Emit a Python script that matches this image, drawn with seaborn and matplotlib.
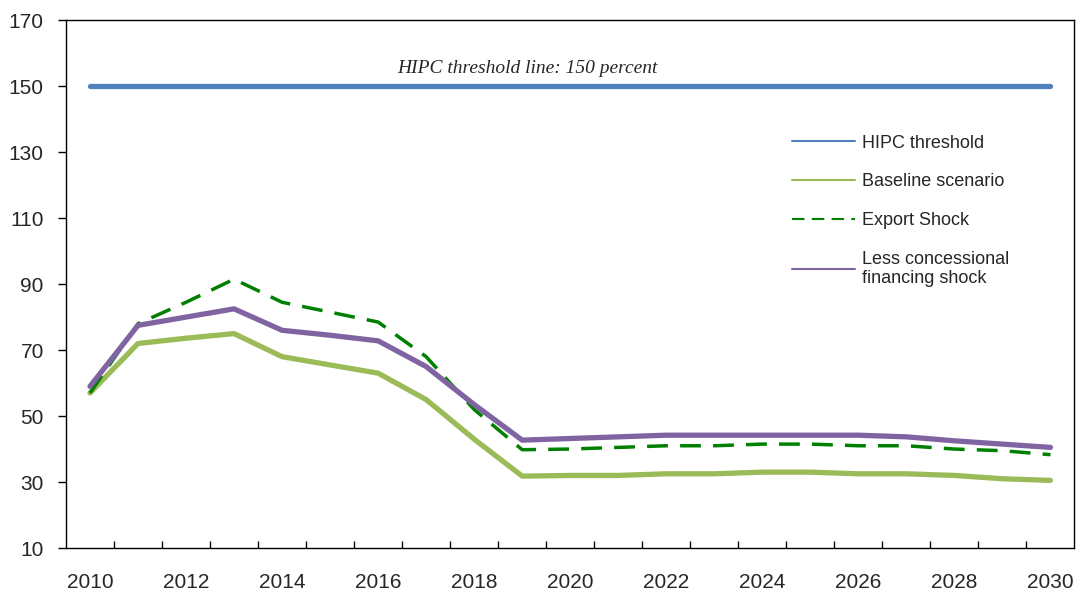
import numpy as np
import pandas as pd
import matplotlib
matplotlib.use("Agg")
import matplotlib.pyplot as plt
import seaborn as sns

# data
years = list(range(2010, 2031))
hipc_threshold = [150] * len(years)
baseline = [57, 72, 73.6, 75, 68, 65.5, 63, 55, 43, 31.8, 32, 32, 32.5, 32.5, 33, 33, 32.5, 32.5, 32, 31, 30.5]
export_shock = [57, 78, 84.5, 91.5, 84.5, 81.5, 78.5, 68, 52, 39.8, 40, 40.5, 41, 41, 41.5, 41.5, 41, 41, 40, 39.5, 38.3]
less_concessional = [59, 77.5, 80, 82.5, 76, 74.5, 72.8, 65, 53.5, 42.7, 43.2, 43.7, 44.2, 44.2, 44.2, 44.2, 44.2, 43.7, 42.5, 41.5, 40.5]

series_names = ["HIPC threshold", "Baseline scenario", "Export Shock",
                "Less concessional\nfinancing shock"]
series_colors = ["#4f81bd", "#9bbb59", "#008000", "#8064a2"]

df = pd.DataFrame({"year": years,
                   series_names[0]: hipc_threshold,
                   series_names[1]: baseline,
                   series_names[2]: export_shock,
                   series_names[3]: less_concessional})
long_df = df.melt(id_vars="year", var_name="series", value_name="value")

sns.set_style("white")
plt.rcParams["font.family"] = ["Liberation Sans", "DejaVu Sans"]

fig = plt.figure(figsize=(10.78, 5.94), dpi=100)
ax = fig.add_axes([0.0612, 0.0774, 0.9355, 0.8886])

widths = {series_names[0]: 3.8, series_names[1]: 3.8, series_names[2]: 2.5, series_names[3]: 3.8}
for name, color in zip(series_names, series_colors):
    sub = long_df[long_df["series"] == name]
    line_kw = dict(dashes=(6, 3.5)) if name == "Export Shock" else {}
    sns.lineplot(data=sub, x="year", y="value", ax=ax, color=color,
                 linewidth=widths[name], label=name, solid_capstyle="round",
                 **line_kw)

# legend with thin lines like the original
handles, labels = ax.get_legend_handles_labels()
leg = ax.legend(handles, labels, loc="upper left", bbox_to_anchor=(0.72, 0.783),
                frameon=False, fontsize=13, handlelength=3.5, handletextpad=0.35,
                labelspacing=1.2, borderpad=0, borderaxespad=0)
for h in leg.get_lines():
    h.set_linewidth(1.5)

ax.text(2019.1, 155.3, "HIPC threshold line: 150 percent", fontsize=14,
        style="italic", family=["Liberation Serif", "DejaVu Serif"],
        ha="center", va="center")

ax.set_xlim(2009.5, 2030.5)
ax.set_ylim(10, 170)
ax.set_yticks(np.arange(10, 171, 20))
ax.set_xticks(range(2010, 2031, 2))
ax.set_xticks(np.arange(2010.5, 2030.5, 1), minor=True)
ax.tick_params(axis="x", which="major", length=0, pad=18, labelsize=15)
ax.tick_params(axis="x", which="minor", direction="in", length=5, width=1,
               color="black", bottom=True)
ax.tick_params(axis="y", which="major", direction="out", length=6, width=1,
               color="black", labelsize=15, pad=10, left=True)
ax.set_xlabel("")
ax.set_ylabel("")
for sp in ax.spines.values():
    sp.set_color("black")
    sp.set_linewidth(1)

fig.savefig("out.png", dpi=100)
